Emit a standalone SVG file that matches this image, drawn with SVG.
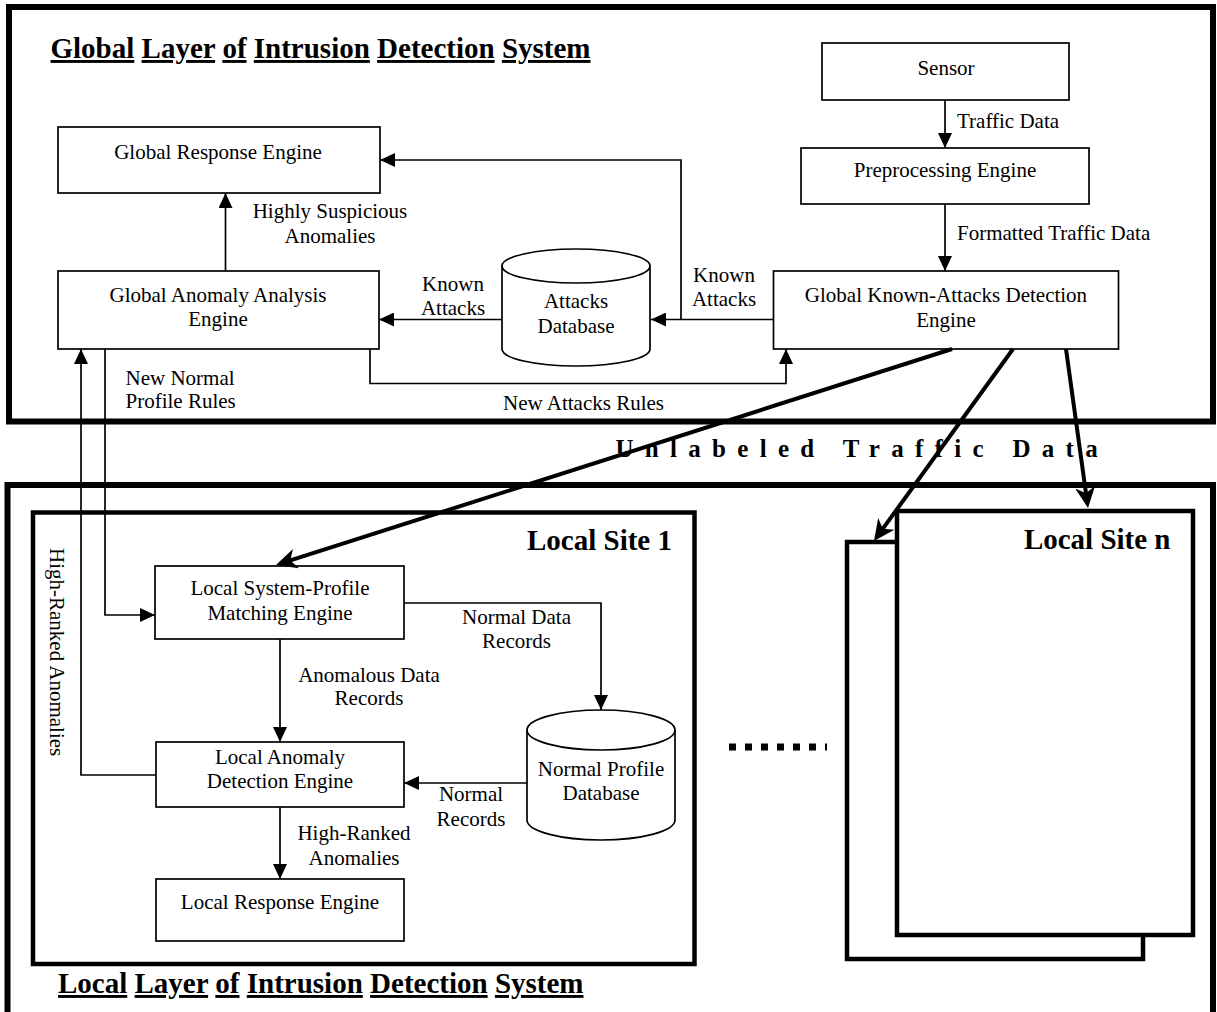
<svg xmlns="http://www.w3.org/2000/svg" width="1217" height="1012" viewBox="0 0 1217 1012">
<style>
.t{font-family:"Liberation Serif","Times New Roman",serif;font-size:21px;fill:#000}
.c{text-anchor:middle}
.e{text-anchor:end}
.h{font-family:"Liberation Serif","Times New Roman",serif;font-weight:bold;font-size:29px;fill:#000}
.u{text-decoration:underline}
.box{fill:#fff;stroke:#000;stroke-width:1.7}
.frame{fill:none;stroke:#000;stroke-width:6}
.site{fill:#fff;stroke:#000;stroke-width:4.5}
.ln{fill:none;stroke:#000;stroke-width:1.7}
.thk{fill:none;stroke:#000;stroke-width:4}
</style>
<defs>
<marker id="a" markerUnits="userSpaceOnUse" viewBox="0 0 15 14" markerWidth="15" markerHeight="14" refX="15" refY="7" orient="auto"><path d="M0,0 L15,7 L0,14 Z" fill="#000"/></marker>
<marker id="b" markerUnits="userSpaceOnUse" viewBox="0 0 22 22" markerWidth="22" markerHeight="22" refX="15" refY="11" orient="auto"><path d="M0,1 L21,11 L0,21 L6,11 Z" fill="#000"/></marker>
</defs>
<rect width="1217" height="1012" fill="#fff"/>

<g id="global-layer">
<rect class="frame" x="9" y="7" width="1204" height="414.5"/>
<text class="h" x="50.5" y="58"><tspan class="u">Global</tspan> <tspan class="u">Layer</tspan> <tspan class="u">of</tspan> <tspan class="u">Intrusion</tspan> <tspan class="u">Detection</tspan> <tspan class="u">System</tspan></text>
</g>

<g id="local-layer">
<rect class="frame" x="7.5" y="485" width="1205.5" height="560"/>
<text class="h" x="58" y="993"><tspan class="u">Local</tspan> <tspan class="u">Layer</tspan> <tspan class="u">of</tspan> <tspan class="u">Intrusion</tspan> <tspan class="u">Detection</tspan> <tspan class="u">System</tspan></text>
</g>

<g id="local-site-1">
<rect class="site" x="33" y="512.5" width="661.5" height="451.5" fill="none" style="fill:none"/>
<text class="h e" x="672" y="550">Local Site 1</text>
</g>

<g id="local-site-n">
<rect class="site" x="847" y="542" width="296" height="417"/>
<rect class="site" x="897" y="511" width="296" height="424"/>
<text class="h e" x="1170.5" y="549">Local Site n</text>
</g>

<g id="sensor">
<rect class="box" x="822" y="43" width="247" height="57"/>
<text class="t c" x="946" y="75">Sensor</text>
</g>

<g id="preprocessing-engine">
<rect class="box" x="801" y="148" width="288" height="56"/>
<text class="t c" x="945" y="177">Preprocessing Engine</text>
</g>

<g id="global-known-attacks-detection-engine">
<rect class="box" x="773.5" y="271" width="345" height="78"/>
<text class="t c" x="946" y="302">Global Known-Attacks Detection</text>
<text class="t c" x="946" y="327">Engine</text>
</g>

<g id="attacks-database">
<path class="box" d="M502,266 A74,17 0 0 1 650,266 V349 A74,17 0 0 1 502,349 Z"/>
<path class="ln" d="M502,266 A74,17 0 0 0 650,266"/>
<text class="t c" x="576" y="308">Attacks</text>
<text class="t c" x="576" y="333">Database</text>
</g>

<g id="global-anomaly-analysis-engine">
<rect class="box" x="58" y="271" width="321" height="78"/>
<text class="t c" x="218" y="302">Global Anomaly Analysis</text>
<text class="t c" x="218" y="326">Engine</text>
</g>

<g id="global-response-engine">
<rect class="box" x="58" y="127" width="322" height="66"/>
<text class="t c" x="218" y="159">Global Response Engine</text>
</g>

<g id="local-system-profile-matching-engine">
<rect class="box" x="155" y="566" width="249" height="73"/>
<text class="t c" x="280" y="595">Local System-Profile</text>
<text class="t c" x="280" y="620">Matching Engine</text>
</g>

<g id="normal-profile-database">
<path class="box" d="M527,730 A74,20 0 0 1 675,730 V820 A74,20 0 0 1 527,820 Z"/>
<path class="ln" d="M527,730 A74,20 0 0 0 675,730"/>
<text class="t c" x="601" y="776">Normal Profile</text>
<text class="t c" x="601" y="800">Database</text>
</g>

<g id="local-anomaly-detection-engine">
<rect class="box" x="156" y="742" width="248" height="65"/>
<text class="t c" x="280" y="764">Local Anomaly</text>
<text class="t c" x="280" y="788">Detection Engine</text>
</g>

<g id="local-response-engine">
<rect class="box" x="156" y="879" width="248" height="62"/>
<text class="t c" x="280" y="909">Local Response Engine</text>
</g>

<g id="connectors">
<path class="ln" d="M945,100 V148" marker-end="url(#a)"/>
<path class="ln" d="M945,204 V271" marker-end="url(#a)"/>
<path class="ln" d="M773.5,319.5 H651" marker-end="url(#a)"/>
<path class="ln" d="M681,319.5 V160 H380" marker-end="url(#a)"/>
<path class="ln" d="M502,319.5 H379" marker-end="url(#a)"/>
<path class="ln" d="M225.5,271 V193" marker-end="url(#a)"/>
<path class="ln" d="M370,349 V383.5 H786 V349" marker-end="url(#a)"/>
<path class="ln" d="M156,775 H81 V349" marker-end="url(#a)"/>
<path class="ln" d="M105,349 V615 H155" marker-end="url(#a)"/>
<path class="ln" d="M404,603 H601 V710" marker-end="url(#a)"/>
<path class="ln" d="M280,639 V742" marker-end="url(#a)"/>
<path class="ln" d="M527,783 H404" marker-end="url(#a)"/>
<path class="ln" d="M280,807 V879" marker-end="url(#a)"/>
<path class="thk" d="M952,349 L281.7,563.2" marker-end="url(#b)"/>
<path class="thk" d="M1013,349 L877.5,536.1" marker-end="url(#b)"/>
<path class="thk" d="M1066,349 L1087.2,502.1" marker-end="url(#b)"/>
<line x1="729" y1="747" x2="827" y2="747" stroke="#000" stroke-width="7" stroke-dasharray="7 9"/>

<text class="t" x="957" y="128">Traffic Data</text>
<text class="t" x="957" y="240">Formatted Traffic Data</text>
<text class="t c" x="724" y="282">Known</text>
<text class="t c" x="724" y="306">Attacks</text>
<text class="t c" x="453" y="291">Known</text>
<text class="t c" x="453" y="315">Attacks</text>
<text class="t c" x="330" y="218">Highly Suspicious</text>
<text class="t c" x="330" y="243">Anomalies</text>
<text class="t" x="125.5" y="385">New Normal</text>
<text class="t" x="125.5" y="408">Profile Rules</text>
<text class="t" x="503" y="410">New Attacks Rules</text>
<text class="t c" x="516.5" y="624">Normal Data</text>
<text class="t c" x="516.5" y="648">Records</text>
<text class="t c" x="369" y="682">Anomalous Data</text>
<text class="t c" x="369" y="705">Records</text>
<text class="t c" x="471" y="801">Normal</text>
<text class="t c" x="471" y="826">Records</text>
<text class="t c" x="354" y="840">High-Ranked</text>
<text class="t c" x="354" y="865">Anomalies</text>
<text class="t" transform="translate(50,548) rotate(90)">High-Ranked Anomalies</text>
<text class="h" x="615.5" y="457" style="font-size:25px;letter-spacing:11.3px">Unlabeled Traffic Data</text>
</g>
</svg>
